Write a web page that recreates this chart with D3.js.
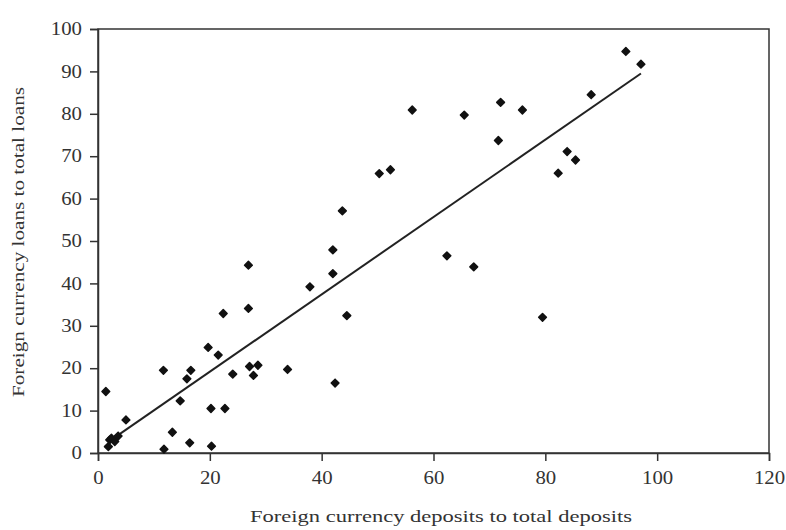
<!DOCTYPE html>
<meta charset="utf-8">
<style>
	body { margin: 0; background: #fff; }
	text { font-family: "Liberation Serif", "Times New Roman", serif; fill: #333; }
	.frame { fill: none; stroke: #333; stroke-width: 1.5; }
	.axis path, .axis line { stroke: #333; stroke-width: 1.5; }
	.trend { fill: none; stroke: #222; stroke-width: 2; }
	.dot { fill: #111; stroke: #111; stroke-width: 1.5; stroke-linejoin: round; }
</style>
<body>
<script src="https://d3js.org/d3.v7.min.js"></script>
<script>
// values
var depositShare = [1.4, 1.85, 2.1, 2.4, 3.0, 3.6, 5.0, 11.8, 11.7, 13.3, 14.7, 15.9, 16.6, 16.4,
	19.7, 20.2, 20.3, 21.5, 22.4, 22.7, 24.1, 26.9, 26.9, 27.1, 27.8, 28.6, 33.9, 37.9, 42.0,
	42.4, 44.5, 42.0, 43.7, 50.3, 52.3, 56.2, 65.5, 72.0, 75.9, 71.6, 88.2, 94.4, 97.1, 83.9,
	85.4, 82.3, 62.4, 67.2, 79.5];
var loanShare = [14.5, 1.5, 3.1, 3.5, 2.7, 4.0, 7.8, 0.9, 19.5, 4.9, 12.3, 17.5, 19.5, 2.4,
	24.9, 10.5, 1.6, 23.1, 32.9, 10.5, 18.6, 44.3, 34.1, 20.4, 18.3, 20.7, 19.7, 39.2, 42.3,
	16.5, 32.4, 47.9, 57.1, 65.9, 66.8, 80.9, 79.7, 82.7, 80.9, 73.7, 84.5, 94.7, 91.7, 71.1,
	69.1, 66.0, 46.5, 43.9, 32.0];
var trendX = [3.6, 97.1];
var trendY = [4.2, 89.5];
var xTicks = [0, 20, 40, 60, 80, 100, 120];
var yTicks = [0, 10, 20, 30, 40, 50, 60, 70, 80, 90, 100];
var xTitle = "Foreign currency deposits to total deposits";
var yTitle = "Foreign currency loans to total loans";

(function(){
	var width = 786, height = 530,
		m = {left: 98, right: 17, top: 29, bottom: 77};

	var svg = d3.select("body").append("svg")
		.attr("width", width)
		.attr("height", height);

	var x = d3.scaleLinear().domain([0, 120]).range([m.left, width - m.right]),
		y = d3.scaleLinear().domain([0, 100]).range([height - m.bottom, m.top]);

	// box round the plot
	svg.append("rect")
		.attr("class", "frame")
		.attr("x", x(0)).attr("y", y(100))
		.attr("width", x(120) - x(0))
		.attr("height", y(0) - y(100));

	svg.append("g")
		.attr("class", "axis")
		.attr("transform", "translate(0," + y(0) + ")")
		.call(d3.axisBottom(x).tickValues(xTicks).tickSize(8).tickPadding(10).tickFormat(d3.format("d")));

	svg.append("g")
		.attr("class", "axis")
		.attr("transform", "translate(" + x(0) + ",0)")
		.call(d3.axisLeft(y).tickValues(yTicks).tickSize(8).tickPadding(8).tickFormat(d3.format("d")));

	// the print is a little stretched sideways
	svg.selectAll(".axis text")
		.attr("fill", "#333")
		.style("font-size", "18px")
		.attr("textLength", function(d){ return String(d).length * 10.4; })
		.attr("lengthAdjust", "spacingAndGlyphs");

	// trend line
	svg.append("path")
		.datum(d3.zip(trendX, trendY))
		.attr("class", "trend")
		.attr("d", d3.line().x(function(d){ return x(d[0]); }).y(function(d){ return y(d[1]); }));

	// points
	var sym = d3.symbol().type(d3.symbolSquare).size(30);
	svg.selectAll(".dot")
		.data(d3.zip(depositShare, loanShare))
		.enter()
		.append("path")
		.attr("class", "dot")
		.attr("transform", function(d){ return "translate(" + x(d[0]) + "," + y(d[1]) + ") rotate(45)"; })
		.attr("d", sym);

	svg.append("text")
		.attr("x", 441).attr("y", 522)
		.attr("text-anchor", "middle")
		.attr("textLength", 382)
		.attr("lengthAdjust", "spacingAndGlyphs")
		.style("font-size", "17px")
		.text(xTitle);

	svg.append("text")
		.attr("transform", "translate(24,242) rotate(-90)")
		.attr("text-anchor", "middle")
		.attr("textLength", 310)
		.attr("lengthAdjust", "spacingAndGlyphs")
		.style("font-size", "17px")
		.text(yTitle);
})();
</script>
